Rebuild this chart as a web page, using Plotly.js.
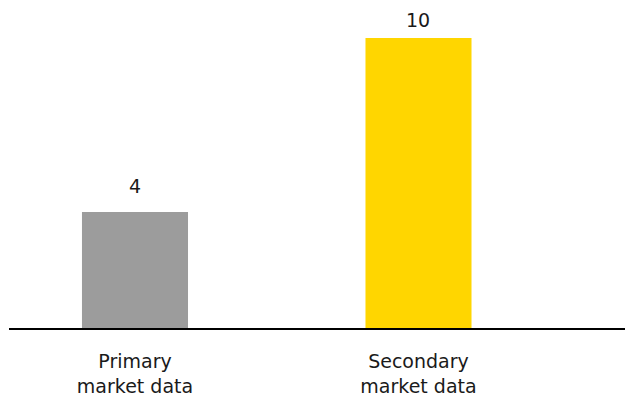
<!DOCTYPE html>
<html>
<head>
<meta charset="utf-8">
<script src="https://cdn.plot.ly/plotly-3.0.1.min.js"></script>
<style>html,body{margin:0;padding:0;background:#fff}#chart{width:625px;height:398px}</style>
</head>
<body>
<div id="chart"></div>
<script>
const categories = ["Primary<br>market data", "Secondary<br>market data"];
const values = [4, 10];
const barColors = ["#9C9C9C", "#FFD600"];

const xs = categories.map((c, i) => i);
const labelShift = [26, 18];

const trace = {
  type: "bar",
  x: xs,
  y: values,
  width: 0.374,
  marker: { color: barColors },
  hoverinfo: "skip",
  cliponaxis: false
};

const annotations = values.map((v, i) => ({
  x: xs[i], y: v, xref: "x", yref: "y",
  text: String(v), showarrow: false,
  yanchor: "middle", yshift: labelShift[i],
  font: { family: "DejaVu Sans", size: 19, color: "#1a1a1a" }
}));

const layout = {
  width: 625, height: 398,
  margin: { l: 9, r: 0, t: 38, b: 70 },
  paper_bgcolor: "#fff", plot_bgcolor: "#fff",
  showlegend: false,
  font: { family: "DejaVu Sans", size: 19, color: "#1a1a1a" },
  xaxis: {
    range: [-0.4444, 1.7284],
    tickvals: xs, ticktext: categories,
    showgrid: false, zeroline: false,
    showline: true, linecolor: "#000", linewidth: 2,
    ticks: "", ticklabelstandoff: 15,
    tickfont: { family: "DejaVu Sans", size: 19, color: "#1a1a1a" },
    fixedrange: true
  },
  yaxis: {
    range: [0, 10],
    visible: false, showgrid: false, zeroline: false,
    fixedrange: true
  },
  annotations: annotations
};

Plotly.newPlot("chart", [trace], layout, { displayModeBar: false, staticPlot: true });
</script>
</body>
</html>
